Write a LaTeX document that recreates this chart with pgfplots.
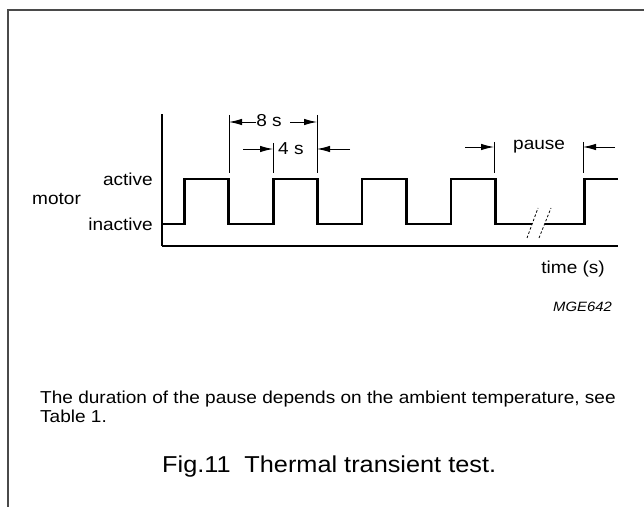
\documentclass[border=0pt]{standalone}
\usepackage{fontspec}
\setmainfont{Liberation Sans}[FakeStretch=1.1]
\usepackage{pgfplots}
\pgfplotsset{compat=1.18}
\usetikzlibrary{arrows.meta}
\newcommand{\lab}{\fontsize{17.3pt}{20pt}\selectfont}
\definecolor{framegray}{HTML}{4A4A4A}
\tikzset{dim/.style={line width=0.9pt, -{Latex[length=13pt,width=6.5pt]}}}

\begin{document}
\begin{tikzpicture}[x=1pt,y=1pt]
\useasboundingbox (0,0) rectangle (644,506);
% page frame (only top and left edges show)
\draw[framegray, line width=2.2pt] (8,-5) -- (8,496) -- (660,496);

\begin{axis}[at={(162pt,260pt)}, anchor=south west, scale only axis,
  width=456pt, height=132pt,
  xmin=0, xmax=41, ymin=-0.4889, ymax=2.4444,
  axis x line=bottom, axis y line=left,
  axis line style={-, line width=1.4pt},
  xtick=\empty, ytick={0,1}, yticklabels={inactive,active},
  major tick length=0pt,
  yticklabel style={font=\lab, inner sep=0pt, xshift=-9pt},
  clip=false]
\addplot[const plot, line width=2.6pt, line join=miter] coordinates {
  (0,0) (2,1) (6,0) (10,1) (14,0) (18,1) (22,0) (26,1) (30,0) (33.3,0)};
\addplot[const plot, line width=2.6pt, line join=miter] coordinates {
  (34.4,0) (38,1) (41,1)};
\end{axis}

% labels
\node[font=\lab, anchor=base west, inner sep=0pt] at (32,301) {motor};
\node[font=\lab, anchor=base east, inner sep=0pt] at (605,232) {time (s)};
\node[font=\fontsize{13.5pt}{16pt}\selectfont\itshape, anchor=base east, inner sep=0pt] at (612,194) {MGE642};

% dimension lines: 8 s and 4 s
\draw[line width=0.9pt] (229,391) -- (229,333);
\draw[line width=0.9pt] (273,363) -- (273,333);
\draw[line width=0.9pt] (317,391) -- (317,333);
\draw[dim] (256,384) -- (229,384);
\draw[dim] (290,384) -- (317,384);
\node[font=\lab, anchor=base, inner sep=0pt] at (269,379) {8 s};
\draw[dim] (243,357) -- (273,357);
\draw[dim] (350,357) -- (317,357);
\node[font=\lab, anchor=base west, inner sep=0pt] at (278,351) {4 s};

% pause
\draw[line width=0.9pt] (494,364) -- (494,333);
\draw[line width=0.9pt] (583,364) -- (583,333);
\draw[dim] (465,359) -- (494,359);
\draw[dim] (615,359) -- (583,359);
\node[font=\lab, anchor=base west, inner sep=0pt] at (513,356) {pause};

% break marks
\draw[line width=0.8pt, dash pattern=on 2.5pt off 2pt] (527,268) -- (538,298);
\draw[line width=0.8pt, dash pattern=on 2.5pt off 2pt] (539,268) -- (551,298);

% note and caption
\node[font=\lab, anchor=base west, inner sep=0pt] at (40,103) {The duration of the pause depends on the ambient temperature, see};
\node[font=\lab, anchor=base west, inner sep=0pt] at (40,84) {Table 1.};
\node[font=\fontsize{23pt}{27pt}\selectfont, anchor=base west, inner sep=0pt] at (162,34) {Fig.11\hspace{0.6em}Thermal transient test.};
\end{tikzpicture}
\end{document}
